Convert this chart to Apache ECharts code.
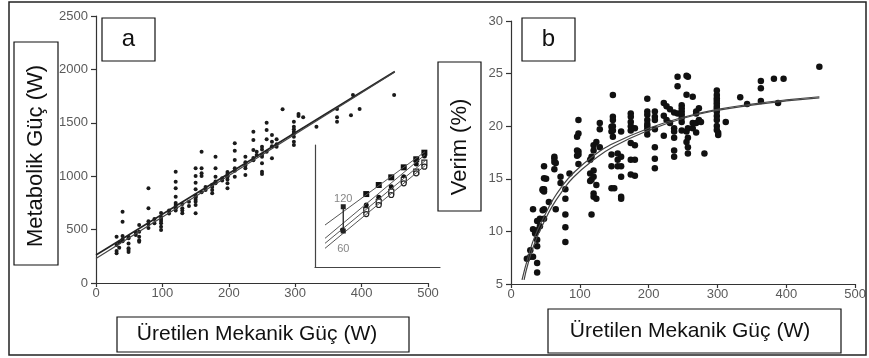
<!DOCTYPE html>
<html>
<head>
<meta charset="utf-8">
<script src="https://cdn.jsdelivr.net/npm/echarts@6/dist/echarts.min.js"></script>
<style>html,body{margin:0;padding:0;background:#fff;}#c{width:869px;height:358px;}</style>
</head>
<body>
<div id="c"></div>
<script>
// ---- Panel a: metabolic power vs mechanical power ----
const xTicksA = [0, 100, 200, 300, 400, 500];
const yTicksA = [0, 500, 1000, 1500, 2000, 2500];
const metabolicPoints = [
  [31,433],[31,356],[31,278],[31,300],[35,330],[35,380],
  [40,668],[40,574],[40,440],[40,390],[40,410],
  [49,371],[49,325],[49,433],[49,309],[49,290],[49,420],
  [60,450],[60,470],[65,543],[65,433],[65,387],[65,400],[65,480],
  [79,887],[79,700],[79,578],[79,515],[79,550],[88,560],[88,600],
  [98,655],[98,527],[98,496],[98,600],[98,620],[98,580],[98,560],
  [110,650],[110,680],
  [120,1042],[120,948],[120,887],[120,808],[120,730],[120,700],[120,710],[120,750],[120,680],
  [130,652],[130,700],[130,740],[130,680],[140,720],[140,760],
  [150,1074],[150,1002],[150,939],[150,877],[150,808],[150,730],[150,652],[150,780],[150,760],[150,800],[150,820],
  [159,1229],[159,1074],[159,1002],[159,1027],[159,850],[165,870],[165,900],
  [175,871],[175,840],[175,900],[175,920],
  [180,1183],[180,1074],[180,995],[180,933],[180,950],[190,960],[190,980],
  [198,995],[198,933],[198,887],[198,1000],[198,1020],[198,1040],[198,970],
  [209,1308],[209,1239],[209,1152],[209,1074],[209,995],[209,1050],
  [225,1183],[225,1074],[225,1011],[225,1100],[225,1130],
  [237,1416],[237,1339],[237,1245],[237,1150],[237,1170],[242,1229],[242,1198],
  [250,1276],[250,1183],[250,1121],[250,1042],[250,1020],[250,1200],[250,1250],
  [257,1501],[257,1433],[257,1345],[257,1230],
  [265,1386],[265,1323],[265,1167],[265,1280],[272,1345],[272,1276],[272,1300],
  [281,1626],
  [298,1510],[298,1463],[298,1416],[298,1370],[298,1323],[298,1292],[298,1400],[298,1440],
  [305,1582],[305,1563],[312,1551],[332,1463],
  [363,1551],[363,1510],[363,1630],[384,1570],[387,1760],[397,1630],[449,1760]
];
const fitLineA1 = [[0,262],[450,1980]];
const fitLineA2 = [[0,230],[450,1975]];

// ---- Inset (panel a) ----
const insetLine1 = [[0.8,3.44],[8.8,9.45]];
const insetLine2 = [[0.8,2.35],[8.8,9.2]];
const insetLine3 = [[0.8,1.94],[8.8,8.7]];
const insetLine4 = [[0.8,1.53],[8.8,8.3]];
const insetMarks1 = [[4.1,5.98],[5.1,6.72],[6.1,7.35],[7.1,8.17],[8.1,8.83],[8.75,9.37]];
const insetMarks2 = [[2.2,3.03],[4.1,5.08],[5.1,5.71],[6.1,6.58],[7.1,7.40],[8.1,8.44],[8.75,9.10]];
const insetMarks3 = [[4.1,4.67],[5.1,5.35],[6.1,6.17],[7.1,7.13],[8.1,7.81],[8.75,8.55]];
const insetMarks4 = [[4.1,4.34],[5.1,5.08],[6.1,5.90],[7.1,6.86],[8.1,7.68],[8.75,8.22]];
const insetArrow = [[2.26,4.94],[2.26,2.95]];
const insetLabels = [[2.26,5.55,'120'],[2.26,1.5,'60']];

// ---- Panel b: efficiency vs mechanical power ----
const xTicksB = [0, 100, 200, 300, 400, 500];
const yTicksB = [5, 10, 15, 20, 25, 30];
const efficiencyPoints = [
  [23,7.4],[28,7.6],[28,8.2],[32,12.1],[32,10.2],[32,7.6],[35,9.8],
  [38,11.0],[38,10.1],[38,9.2],[38,8.6],[38,7.0],[38,6.1],[42,10.5],[42,11.2],
  [46,13.9],[46,12.0],[46,14.0],[48,16.2],[48,15.05],[48,14.0],[48,13.8],[48,12.1],[48,11.2],
  [51,15.0],[55,12.8],[63,17.1],[63,16.6],[63,15.9],[63,16.9],[65,12.1],[65,16.5],
  [72,15.2],[72,14.6],[79,13.1],[79,11.6],[79,10.4],[79,9.0],[79,14.0],[85,15.5],
  [96,17.7],[96,17.2],[96,19.0],[98,20.6],[98,19.3],[98,17.6],[98,17.3],[98,16.4],
  [115,16.8],[115,15.5],[115,14.8],[117,17.1],[117,14.9],[117,11.6],
  [120,18.2],[120,17.7],[120,15.8],[120,15.2],[120,13.6],[120,13.3],
  [124,18.5],[124,13.1],[124,14.4],[129,20.3],[129,19.7],[129,18.0],
  [146,19.95],[146,19.5],[146,17.3],[146,16.2],[146,14.1],
  [148,22.97],[148,20.9],[148,20.6],[148,20.0],[148,19.6],[148,19.0],[150,14.1],
  [155,17.4],[155,16.8],[155,16.2],
  [160,19.5],[160,17.1],[160,16.2],[160,15.2],[160,13.3],[160,13.1],
  [174,21.2],[174,20.9],[174,20.4],[174,20.0],[174,19.6],[174,18.4],[174,16.8],[174,15.4],
  [180,18.2],[180,16.8],[180,15.3],[180,19.8],
  [198,22.6],[198,21.4],[198,21.1],[198,20.6],[198,20.2],[198,19.7],[198,19.2],[198,20.0],
  [209,21.4],[209,20.9],[209,20.6],[209,19.7],[209,18.0],[209,16.9],[209,16.0],
  [222,22.2],[222,19.1],[222,21.0],[226,21.9],[226,20.6],[231,21.6],[231,20.3],
  [237,21.3],[237,19.8],[237,19.5],[237,18.9],[237,17.7],[237,17.1],
  [242,23.8],[242,21.2],[242,24.7],
  [248,22.0],[248,21.7],[248,21.4],[248,21.1],[248,20.8],[248,19.6],[248,20.4],
  [255,24.8],[255,23.0],[255,19.5],[255,18.5],[257,24.7],[257,19.8],[257,18.9],[257,18.0],[257,17.4],
  [264,22.8],[264,19.8],[264,20.3],[269,21.2],[269,20.3],[269,21.4],[269,19.4],
  [273,21.7],[273,20.6],[276,20.4],[281,17.4],
  [299,23.4],[299,22.97],[299,22.65],[299,22.42],[299,22.17],[299,21.92],[299,21.7],
  [299,21.38],[299,20.97],[299,20.59],[299,20.02],[299,19.64],[301,19.38],[301,19.16],
  [312,20.4],[333,22.75],[343,22.1],[363,24.3],[363,23.6],[363,22.4],
  [382,24.5],[388,22.2],[396,24.5],[448,25.66]
];
const fitCurveB1 = [[16,5.4],[25,7.6],[35,9.6],[48,11.4],[60,12.9],[72,14.1],[90,15.5],[120,17.2],
  [150,18.4],[200,19.8],[253,20.9],[300,21.6],[350,22.1],[400,22.5],[448,22.8]];
const fitCurveB2 = [[19,5.4],[25,7.0],[35,9.0],[48,10.9],[60,12.4],[72,13.6],[90,15.1],[120,16.8],
  [150,18.1],[200,19.6],[253,20.8],[300,21.5],[350,22.0],[400,22.4],[448,22.7]];

const FONT = '"Liberation Sans", Arial, sans-serif';
const axisCol = '#333';
const labCol = '#5a5a5a';

function valAxis(grid, min, max, interval, isX) {
  return {
    gridIndex: grid, type: 'value', min: min, max: max, interval: interval,
    axisLine: { show: true, onZero: false, lineStyle: { color: axisCol, width: 1.2 } },
    axisTick: { show: true, length: isX ? 4 : 5, lineStyle: { color: axisCol, width: 1.2 } },
    axisLabel: { color: labCol, fontSize: 13, fontFamily: FONT, margin: isX ? 4 : 8,
      formatter: function (v) { return String(v); } },
    splitLine: { show: false }
  };
}
function hiddenAxis(grid) {
  return {
    gridIndex: grid, type: 'value', min: 0, max: 10,
    axisLine: { show: true, onZero: false, lineStyle: { color: '#444', width: 1.2 } },
    axisTick: { show: false }, axisLabel: { show: false }, splitLine: { show: false }
  };
}

function box(x, y, w, h) {
  return { type: 'rect', shape: { x: x, y: y, width: w, height: h },
    style: { fill: 'none', stroke: '#111', lineWidth: 1.2 }, silent: true, z: 50 };
}
function txt(x, y, s, size, rot) {
  return { type: 'text', x: x, y: y, rotation: rot || 0, silent: true, z: 51,
    style: { text: s, font: size + 'px ' + FONT, fill: '#111',
      textAlign: 'center', textVerticalAlign: 'middle', align: 'center', verticalAlign: 'middle' } };
}

const chart = echarts.init(document.getElementById('c'));
chart.setOption({
  animation: false,
  backgroundColor: '#fff',
  grid: [
    { left: 96, top: 16, width: 332, height: 267 },
    { left: 511, top: 21, width: 351, height: 263 },
    { left: 315, top: 145, width: 125, height: 122 }
  ],
  xAxis: [
    valAxis(0, xTicksA[0], xTicksA[xTicksA.length - 1], xTicksA[1] - xTicksA[0], true),
    valAxis(1, xTicksB[0], xTicksB[xTicksB.length - 1], xTicksB[1] - xTicksB[0], true),
    hiddenAxis(2)
  ],
  yAxis: [
    valAxis(0, yTicksA[0], yTicksA[yTicksA.length - 1], yTicksA[1] - yTicksA[0], false),
    valAxis(1, yTicksB[0], yTicksB[yTicksB.length - 1], yTicksB[1] - yTicksB[0], false),
    hiddenAxis(2)
  ],
  series: [
    { type: 'scatter', xAxisIndex: 0, yAxisIndex: 0, data: metabolicPoints, symbolSize: 4,
      itemStyle: { color: '#1a1a1a', opacity: 1 } },
    { type: 'line', xAxisIndex: 0, yAxisIndex: 0, data: fitLineA1, symbol: 'none',
      lineStyle: { color: '#222', width: 1.6 } },
    { type: 'line', xAxisIndex: 0, yAxisIndex: 0, data: fitLineA2, symbol: 'none',
      lineStyle: { color: '#444', width: 1.2 } },

    { type: 'line', xAxisIndex: 2, yAxisIndex: 2, data: insetLine1, symbol: 'none', lineStyle: { color: '#555', width: 1 } },
    { type: 'line', xAxisIndex: 2, yAxisIndex: 2, data: insetLine2, symbol: 'none', lineStyle: { color: '#555', width: 1 } },
    { type: 'line', xAxisIndex: 2, yAxisIndex: 2, data: insetLine3, symbol: 'none', lineStyle: { color: '#555', width: 1 } },
    { type: 'line', xAxisIndex: 2, yAxisIndex: 2, data: insetLine4, symbol: 'none', lineStyle: { color: '#555', width: 1 } },
    { type: 'scatter', xAxisIndex: 2, yAxisIndex: 2, data: insetMarks1, symbol: 'rect', symbolSize: 6, itemStyle: { color: '#111', opacity: 1 } },
    { type: 'scatter', xAxisIndex: 2, yAxisIndex: 2, data: insetMarks2, symbol: 'circle', symbolSize: 5, itemStyle: { color: '#111', opacity: 1 } },
    { type: 'scatter', xAxisIndex: 2, yAxisIndex: 2, data: insetMarks3, symbol: 'rect', symbolSize: 5,
      itemStyle: { color: '#fff', borderColor: '#222', borderWidth: 1.2, opacity: 1 } },
    { type: 'scatter', xAxisIndex: 2, yAxisIndex: 2, data: insetMarks4, symbol: 'circle', symbolSize: 5,
      itemStyle: { color: '#fff', borderColor: '#222', borderWidth: 1.2, opacity: 1 } },
    { type: 'line', xAxisIndex: 2, yAxisIndex: 2, data: insetArrow, symbol: ['none', 'arrow'], symbolSize: 5,
      itemStyle: { color: '#222' }, lineStyle: { color: '#222', width: 1.3 } },
    { type: 'scatter', xAxisIndex: 2, yAxisIndex: 2, data: insetLabels, symbolSize: 0,
      label: { show: true, position: 'inside', formatter: function (p) { return p.data[2]; },
        color: '#666', fontSize: 11, fontFamily: FONT } },

    { type: 'scatter', xAxisIndex: 1, yAxisIndex: 1, data: efficiencyPoints, symbolSize: 6.5,
      itemStyle: { color: '#111', opacity: 1 } },
    { type: 'line', xAxisIndex: 1, yAxisIndex: 1, data: fitCurveB1, symbol: 'none', smooth: true,
      lineStyle: { color: '#444', width: 1.2 } },
    { type: 'line', xAxisIndex: 1, yAxisIndex: 1, data: fitCurveB2, symbol: 'none', smooth: true,
      lineStyle: { color: '#444', width: 1.2 } }
  ],
  graphic: { elements: [
    { type: 'rect', shape: { x: 9, y: 2, width: 857, height: 353 },
      style: { fill: 'none', stroke: '#222', lineWidth: 1.5 }, silent: true, z: 60 },
    box(102, 18, 53, 43), txt(128.5, 39.5, 'a', 24),
    box(14, 42, 44, 223), txt(36, 156, 'Metabolik Güç (W)', 22, Math.PI / 2),
    box(117, 317, 292, 35), txt(257, 334.5, 'Üretilen Mekanik Güç (W)', 21),
    box(522, 18, 53, 43), txt(548.5, 39.5, 'b', 24),
    box(438, 62, 43, 149), txt(459.5, 147, 'Verim (%)', 22, Math.PI / 2),
    box(548, 309, 293, 44), txt(690, 331.5, 'Üretilen Mekanik Güç (W)', 21)
  ] }
});
</script>
</body>
</html>
